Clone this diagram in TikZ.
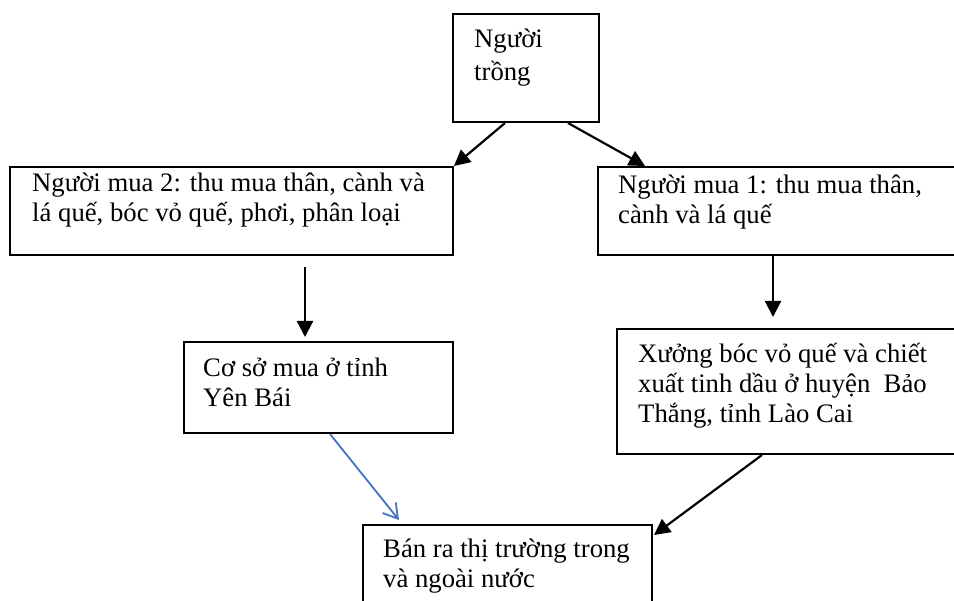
\documentclass[tikz,border=0pt]{standalone}
\usepackage{fontspec}
\setmainfont{Liberation Serif}
\usetikzlibrary{calc,arrows.meta}
\definecolor{wordblue}{RGB}{68,114,196}
\newcommand\mylines[1]{\vtop{\baselineskip=30pt\lineskiplimit=-10pt\halign{##\hfil\cr#1\crcr}}}
\begin{document}
\begin{tikzpicture}[x=1pt,y=-1pt,
  box/.style={draw,line width=2pt,inner sep=0pt,anchor=north west},
  txt/.style={inner sep=0pt,anchor=base west,font=\fontsize{26.7}{30}\selectfont},
  arr/.style={line width=2.2pt,-{Triangle[length=16pt,width=16pt]}},
  barr/.style={line width=1.8pt,draw=wordblue,-{Straight Barb[length=14pt,width=17pt,line width=1.8pt]}}]
\clip (0,0) rectangle (954,601);
\fill[white] (0,0) rectangle (954,601);
% boxes
\node[box,minimum width=146pt,minimum height=108pt] (top) at (452,13) {};
\node[box,minimum width=443pt,minimum height=88pt] (mua2) at (9,166) {};
\node[box,minimum width=363pt,minimum height=88pt] (mua1) at (597,166) {};
\node[box,minimum width=269pt,minimum height=91pt] (yb) at (183,341) {};
\node[box,minimum width=344pt,minimum height=125pt] (xuong) at (616,328) {};
\node[box,minimum width=289pt,minimum height=100pt] (ban) at (362,524) {};
% texts
\node[txt] (ttop) at (474,48) {\vtop{\baselineskip=33pt\hbox{Người}\hbox{trồng}}};
\node[txt] (tmua2) at (32,192) {\mylines{Người mua 2: thu mua thân, cành và\cr lá quế, bóc vỏ quế, phơi, phân loại}};
\node[txt] (tmua1) at (618,194) {\mylines{Người mua 1: thu mua thân,\cr cành và lá quế}};
\node[txt] (tyb) at (203,377) {\mylines{Cơ sở mua ở tỉnh\cr Yên Bái}};
\node[txt] (txuong) at (638,363) {\mylines{Xưởng bóc vỏ quế và chiết\cr xuất tinh dầu ở huyện\ \ Bảo\cr Thắng, tỉnh Lào Cai}};
\node[txt] (tban) at (383,558) {\mylines{Bán ra thị trường trong\cr và ngoài nước}};
% connectors
\draw[arr] ($(top.south west)+(53,0)$) -- (mua2.north east);
\draw[arr] ($(top.south west)+(116,0)$) -- ($(mua1.north west)+(48,0)$);
\draw[arr] ($(mua2.south west)+(296,11)$) -- ($(yb.north west)+(122,-4)$);
\draw[arr] ($(mua1.south west)+(176,0)$) -- ($(xuong.north west)+(157,-11)$);
\draw[barr] ($(yb.south west)+(147,0)$) -- ($(ban.north west)+(37,-4)$);
\draw[arr] ($(xuong.south west)+(146,0)$) -- ($(ban.north east)+(1,11)$);
\end{tikzpicture}
\end{document}
